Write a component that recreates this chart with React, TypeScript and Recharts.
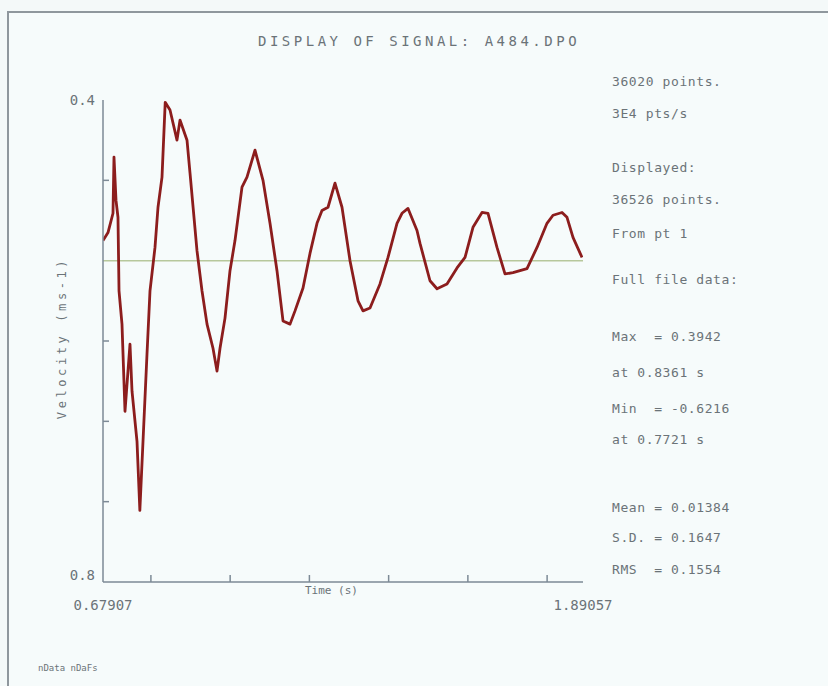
import React from "react";
import { LineChart, Line, XAxis, YAxis, ReferenceLine } from "recharts";

// velocity signal (time in s, velocity in m/s)
const times = [
  0.6791, 0.6917, 0.7043, 0.7068, 0.7119, 0.7169, 0.7195, 0.727, 0.7346, 0.7472,
  0.7523, 0.7649, 0.7721, 0.7901, 0.7977, 0.8103, 0.8179, 0.828, 0.8361, 0.8482,
  0.8658, 0.8734, 0.8911, 0.8987, 0.9163, 0.9289, 0.9416, 0.9567, 0.9668, 0.9744,
  0.987, 0.9996, 1.0122, 1.0299, 1.0425, 1.0627, 1.0829, 1.1006, 1.1182, 1.1334,
  1.1511, 1.1637, 1.1839, 1.2015, 1.2192, 1.2318, 1.247, 1.2646, 1.2823, 1.3025,
  1.3227, 1.3353, 1.353, 1.3782, 1.3984, 1.4211, 1.4337, 1.4489, 1.4716, 1.4792,
  1.5044, 1.5221, 1.5473, 1.5726, 1.5928, 1.6129, 1.6357, 1.6508, 1.6735, 1.6937,
  1.7139, 1.7492, 1.7745, 1.7997, 1.8149, 1.8376, 1.8502, 1.8653, 1.8881,
];
const velocity = [
  0.05, 0.07, 0.118, 0.258, 0.15, 0.108, -0.075, -0.158, -0.375, -0.208,
  -0.325, -0.45, -0.6216, -0.233, -0.075, 0.033, 0.133, 0.208, 0.3942, 0.375,
  0.3, 0.35, 0.3, 0.218, 0.025, -0.075, -0.158, -0.218, -0.275, -0.218,
  -0.143, -0.025, 0.05, 0.183, 0.208, 0.275, 0.2, 0.093, -0.025, -0.15,
  -0.158, -0.125, -0.068, 0.018, 0.093, 0.125, 0.133, 0.193, 0.133, 0.0,
  -0.1, -0.125, -0.118, -0.058, 0.008, 0.093, 0.118, 0.13, 0.075, 0.043,
  -0.05, -0.07, -0.058, -0.018, 0.008, 0.083, 0.12, 0.118, 0.033, -0.033,
  -0.03, -0.02, 0.033, 0.093, 0.113, 0.12, 0.108, 0.058, 0.008,
];

const xTicks = [0.67907, 0.8, 1.0, 1.2, 1.4, 1.6, 1.8, 1.89057];
const xEndLabels: Record<string, string> = { "0.67907": "0.67907", "1.89057": "1.89057" };
const yTicks = [-0.8, -0.6, -0.4, -0.2, 0, 0.2, 0.4];
const yEndLabels: Record<string, string> = { "0.4": "0.4", "-0.8": "0.8" };

const infoLines = [
  "36020 points.",
  "3E4 pts/s",
  "Displayed:",
  "36526 points.",
  "From pt 1",
  "Full file data:",
  "Max  = 0.3942",
  "at 0.8361 s",
  "Min  = -0.6216",
  "at 0.7721 s",
  "Mean = 0.01384",
  "S.D. = 0.1647",
  "RMS  = 0.1554",
];
const infoY = [83, 115, 169, 201, 235, 281, 338, 374, 410, 441, 509, 539, 571];

const data = times.map((t, i) => ({ t, v: velocity[i] }));

const axisColor = "#7d8a96";
const textColor = "#6b7378";
const mono = "'DejaVu Sans Mono', monospace";

const XTick = (props: any) => {
  const { x, y, payload } = props;
  const label = xEndLabels[String(payload.value)];
  if (label) {
    return (
      <text x={x} y={y + 28} textAnchor="middle" fill={textColor} fontFamily={mono} fontSize={14}>
        {label}
      </text>
    );
  }
  return <line x1={x} y1={y} x2={x} y2={y - 7} stroke={axisColor} strokeWidth={1.5} />;
};

const YTick = (props: any) => {
  const { x, y, payload } = props;
  const label = yEndLabels[String(payload.value)];
  if (label) {
    const dy = payload.value > 0 ? 5 : -2;
    return (
      <text x={x - 8} y={y + dy} textAnchor="end" fill={textColor} fontFamily={mono} fontSize={14}>
        {label}
      </text>
    );
  }
  if (payload.value === 0) return <g />;
  return <line x1={x} y1={y} x2={x + 6} y2={y} stroke={axisColor} strokeWidth={1.5} />;
};

const App = () => {
  return (
    <div
      style={{
        position: "fixed",
        left: 0,
        top: 0,
        width: 828,
        height: 686,
        background: "#f4f9f9",
        overflow: "hidden",
      }}
    >
      <div
        style={{
          position: "absolute",
          left: 7,
          top: 11,
          width: 900,
          height: 800,
          borderTop: "2px solid #8f979d",
          borderLeft: "2px solid #8f979d",
          background: "#f6fbfb",
        }}
      />
      <div style={{ position: "absolute", left: 0, top: 0 }}>
        <LineChart
          width={828}
          height={686}
          data={data}
          margin={{ top: 100, right: 245, bottom: 74, left: 43 }}
        >
          <XAxis
            dataKey="t"
            type="number"
            domain={[0.67907, 1.89057]}
            ticks={xTicks}
            interval={0}
            tick={<XTick />}
            tickLine={false}
            tickSize={0}
            tickMargin={0}
            height={30}
            allowDataOverflow
            axisLine={{ stroke: axisColor, strokeWidth: 1.5 }}
          />
          <YAxis
            type="number"
            domain={[-0.8, 0.4]}
            ticks={yTicks}
            interval={0}
            tick={<YTick />}
            tickLine={false}
            tickSize={0}
            tickMargin={0}
            width={60}
            allowDataOverflow
            axisLine={{ stroke: axisColor, strokeWidth: 1.5 }}
          />
          <ReferenceLine y={0} stroke="#b7c89c" strokeWidth={1.5} />
          <Line
            type="linear"
            dataKey="v"
            stroke="#8c1d1d"
            strokeWidth={2.8}
            strokeLinejoin="round"
            dot={false}
            isAnimationActive={false}
          />
        </LineChart>
      </div>
      <div
        style={{
          position: "absolute",
          left: 258,
          top: 33,
          fontFamily: mono,
          fontSize: 14,
          letterSpacing: 3.5,
          color: textColor,
          whiteSpace: "pre",
        }}
      >
        DISPLAY OF SIGNAL: A484.DPO
      </div>
      {infoLines.map((line, i) => (
        <div
          key={i}
          style={{
            position: "absolute",
            left: 612,
            top: infoY[i] - 9,
            fontFamily: mono,
            fontSize: 13,
            letterSpacing: 0.6,
            color: textColor,
            whiteSpace: "pre",
          }}
        >
          {line}
        </div>
      ))}
      <div
        style={{
          position: "absolute",
          left: 305,
          top: 584,
          fontFamily: mono,
          fontSize: 11,
          color: textColor,
          whiteSpace: "pre",
        }}
      >
        Time (s)
      </div>
      <div
        style={{
          position: "absolute",
          left: 62,
          top: 338,
          transform: "translate(-50%, -50%) rotate(-90deg)",
          fontFamily: mono,
          fontSize: 12,
          letterSpacing: 3.6,
          color: textColor,
          whiteSpace: "pre",
        }}
      >
        Velocity (ms-1)
      </div>
      <div
        style={{
          position: "absolute",
          left: 38,
          top: 663,
          fontFamily: mono,
          fontSize: 9,
          color: textColor,
          whiteSpace: "pre",
        }}
      >
        nData nDaFs
      </div>
    </div>
  );
};

export default App;
